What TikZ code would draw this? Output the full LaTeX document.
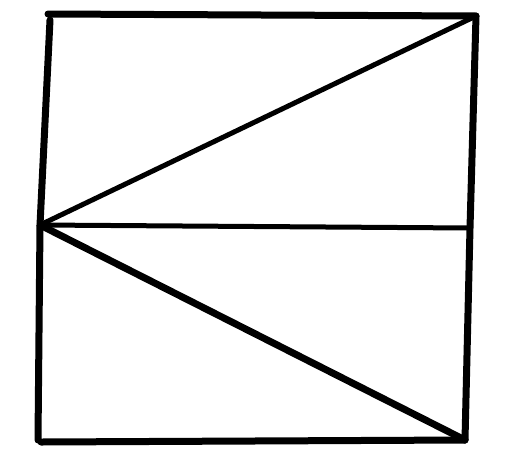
\documentclass[tikz,border=0pt]{standalone}
\usepackage{tikz}

\tikzset{
	edge/.style={line width=7pt, line cap=round, line join=round},
	thinedge/.style={line width=5pt, line cap=round}
}

\begin{document}
\begin{tikzpicture}[x=1pt, y=-1pt]
	\useasboundingbox (0,0) rectangle (511,456);
	%corners of the square
	\coordinate (tl) at (48,14);
	\coordinate (tr) at (476,16);
	\coordinate (br) at (465,440);
	\coordinate (bl) at (38,440);
	%middle of the sides
	\coordinate (ml) at (40,225);
	\coordinate (mr) at (470,228);
	%sides
	\draw[edge] (tl) -- (tr);
	\draw[edge] (tr) -- (mr) -- (br);
	\draw[edge] (41,442) -- (br);
	\draw[edge] (50,20) -- (ml) -- (bl);
	%middle line
	\draw[thinedge] (ml) -- (mr);
	%diagonals
	\draw[thinedge] (ml) -- (tr);
	\draw[edge] (ml) -- (br);
\end{tikzpicture}
\end{document}
